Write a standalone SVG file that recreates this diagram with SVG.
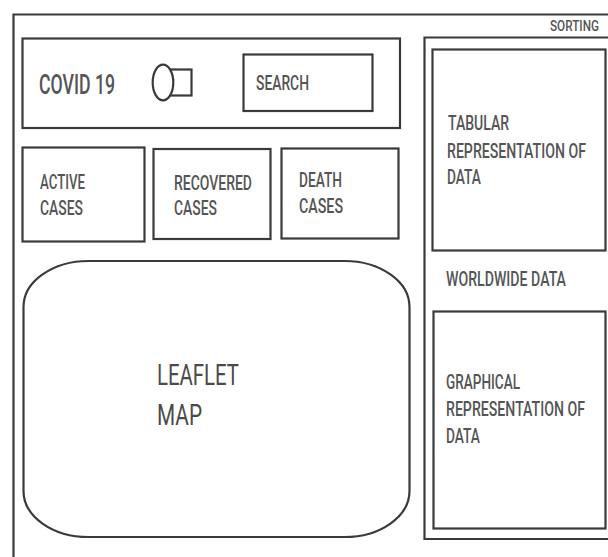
<svg xmlns="http://www.w3.org/2000/svg" width="608" height="557" viewBox="0 0 608 557">
<style>
.ln{fill:none;stroke:#3a3a3a;stroke-width:2.2}
.bx{fill:#fff;stroke:#3a3a3a;stroke-width:2.2}
.t{font-family:Roboto,"Liberation Sans",sans-serif;fill:#555;font-weight:500}
</style>
<rect width="608" height="557" fill="#fff"/>
<g id="frame">
<path class="ln" d="M13.5,557 V14.5 H608"/>
<text class="t" transform="scale(0.75,1)" x="733.33" y="31" font-size="15" textLength="65.33" lengthAdjust="spacingAndGlyphs">SORTING</text>
</g>
<g id="header">
<rect class="bx" x="22.5" y="38.5" width="377.5" height="89.5"/>
<text class="t" transform="scale(0.75,1)" x="52" y="94" font-size="28" textLength="101.33" lengthAdjust="spacingAndGlyphs">COVID 19</text>
</g>
<g id="toggle">
<rect class="bx" x="170" y="69.5" width="21.5" height="26"/>
<ellipse class="bx" cx="163" cy="82.5" rx="10.3" ry="17.8"/>
</g>
<g id="search">
<rect class="bx" x="243.5" y="54.5" width="129" height="56.5"/>
<text class="t" transform="scale(0.75,1)" x="341.33" y="90" font-size="21" textLength="70.67" lengthAdjust="spacingAndGlyphs">SEARCH</text>
</g>
<g id="active">
<rect class="bx" x="22.5" y="147.5" width="122" height="94"/>
<text class="t" transform="scale(0.75,1)" font-size="20"><tspan x="53.33" y="189" textLength="60" lengthAdjust="spacingAndGlyphs">ACTIVE</tspan><tspan x="53.33" y="215" textLength="57.33" lengthAdjust="spacingAndGlyphs">CASES</tspan></text>
</g>
<g id="recovered">
<rect class="bx" x="153.5" y="149" width="117" height="90"/>
<text class="t" transform="scale(0.75,1)" font-size="20"><tspan x="232" y="190" textLength="104" lengthAdjust="spacingAndGlyphs">RECOVERED</tspan><tspan x="232" y="215.5" textLength="57.33" lengthAdjust="spacingAndGlyphs">CASES</tspan></text>
</g>
<g id="death">
<rect class="bx" x="281.5" y="148.5" width="117" height="90"/>
<text class="t" transform="scale(0.75,1)" font-size="20"><tspan x="398.67" y="187" textLength="57.33" lengthAdjust="spacingAndGlyphs">DEATH</tspan><tspan x="398.67" y="213" textLength="58.67" lengthAdjust="spacingAndGlyphs">CASES</tspan></text>
</g>
<g id="map">
<rect class="bx" x="23.5" y="261" width="386" height="276" rx="65" ry="46"/>
<text class="t" transform="scale(0.75,1)" font-size="30" style="fill:#4a4a4a;font-weight:400"><tspan x="209.33" y="385" textLength="109.33" lengthAdjust="spacingAndGlyphs">LEAFLET</tspan><tspan x="209.33" y="425" textLength="60" lengthAdjust="spacingAndGlyphs">MAP</tspan></text>
</g>
<g id="panel">
<path class="ln" d="M608,37.5 H424.5 V539 H608"/>
<text class="t" transform="scale(0.75,1)" x="594.67" y="286" font-size="20" textLength="160" lengthAdjust="spacingAndGlyphs">WORLDWIDE DATA</text>
</g>
<g id="tabular">
<rect class="bx" x="432.5" y="49.5" width="173" height="201"/>
<text class="t" transform="scale(0.75,1)" font-size="20"><tspan x="597.33" y="130" textLength="81.33" lengthAdjust="spacingAndGlyphs">TABULAR</tspan><tspan x="596" y="158" textLength="185.33" lengthAdjust="spacingAndGlyphs">REPRESENTATION OF</tspan><tspan x="596" y="184" textLength="45.33" lengthAdjust="spacingAndGlyphs">DATA</tspan></text>
</g>
<g id="graphical">
<rect class="bx" x="433.5" y="311.5" width="172" height="217"/>
<text class="t" transform="scale(0.75,1)" font-size="20"><tspan x="594.67" y="389" textLength="98.67" lengthAdjust="spacingAndGlyphs">GRAPHICAL</tspan><tspan x="594.67" y="416" textLength="185.33" lengthAdjust="spacingAndGlyphs">REPRESENTATION OF</tspan><tspan x="594.67" y="443" textLength="45.33" lengthAdjust="spacingAndGlyphs">DATA</tspan></text>
</g>
<g id="connectors"></g>
</svg>
